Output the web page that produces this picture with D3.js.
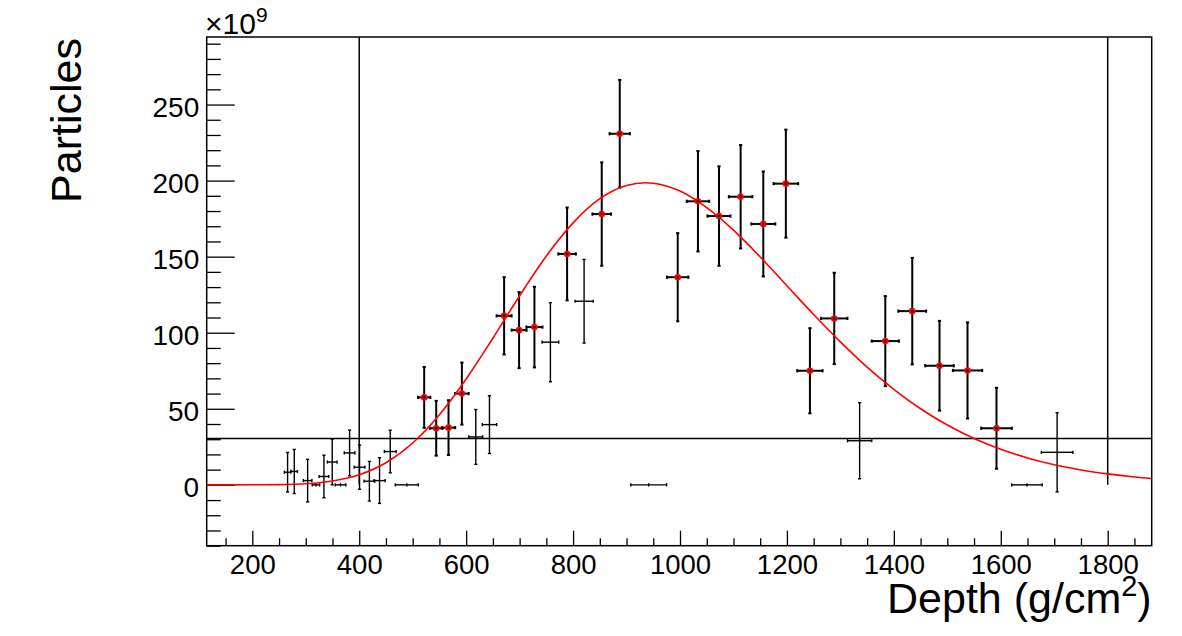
<!DOCTYPE html>
<html>
<head>
<meta charset="utf-8">
<script src="https://cdn.jsdelivr.net/npm/d3@7"></script>
<style>
  body { margin: 0; background: #fff; }
  text { font-family: "Liberation Sans", Arial, sans-serif; fill: #000; }
</style>
</head>
<body>
<div id="chart"></div>
<script>
// bin centres (g/cm2), half widths, content (x1e9), errors, red marker flag
const depth   = [266, 278.5, 303.5, 319, 334, 349.5, 365, 382, 400.6, 419, 438, 458, 489,
                 521.5, 544, 567, 592, 618, 643.6, 671, 699, 727.7, 757.6, 788.8, 820.6, 853.6, 887.3,
                 941.5, 995.7, 1033.6, 1072.9, 1113.4, 1155.8, 1198, 1243, 1288.5, 1336, 1384,
                 1434.4, 1485.4, 1537.8, 1592, 1649, 1705.4];
const depthErr = [6, 6, 8, 7, 9, 9, 10, 10, 10, 10, 10.5, 11, 21.5,
                  11.5, 12, 12.5, 12.8, 13, 13.4, 14, 14, 15, 15.6, 16.5, 17, 17.4, 19,
                  33.5, 20, 21, 21.5, 22, 22.4, 23, 23.7, 24.6, 22.7, 25.5,
                  26, 26.8, 27.4, 28.7, 28.5, 29.5];
const particles = [8.3, 8.8, 2.8, 0, 5.5, 15, 0, 21, 11.6, 2.4, 2.8, 21.9, 0,
                   57.5, 37.2, 37.6, 60, 31.5, 39.6, 111.1, 101.7, 103.7, 93.8, 151.8, 120.7, 178, 230.8,
                   0, 136.5, 186.4, 176.7, 189.4, 171.5, 198, 75, 109.4, 29, 94.5,
                   114.2, 78.3, 75.2, 37.2, 0, 21.4];
const particlesErr = [13, 14.5, 14, 0, 14, 15, 0, 15, 14.5, 13, 15, 14, 0,
                      20, 18, 18, 20.4, 18, 19, 25.4, 25, 26.5, 26, 30.5, 27.5, 34, 35.4,
                      0, 29, 33, 32.7, 34, 34.5, 35.5, 28, 30, 25, 29.6,
                      35, 29.5, 31.6, 26.6, 0, 26];
const redMarker = [0, 0, 0, 0, 0, 0, 0, 0, 0, 0, 0, 0, 0,
                   1, 1, 1, 1, 0, 0, 1, 1, 1, 0, 1, 0, 1, 1,
                   0, 1, 1, 1, 1, 1, 1, 1, 1, 0, 1,
                   1, 1, 1, 1, 0, 0];

// fitted profile
const fitDepth = [115, 150, 200, 250, 300, 350, 400, 450, 500, 550, 600, 650, 700, 750, 800, 850, 900, 935,
                  950, 1000, 1050, 1100, 1150, 1200, 1250, 1300, 1350, 1400, 1450, 1500, 1550, 1600,
                  1650, 1700, 1750, 1800, 1850, 1882];
const fitParticles = [0, 0, 0.02, 0.15, 0.7, 2.5, 6.6, 14.5, 27.5, 46.1, 69.6, 96.4, 124.3, 150.4, 172.2, 188.1, 196.8, 198.6,
                      198.3, 193.1, 182.2, 167.4, 149.8, 130.9, 112, 94, 77.4, 62.8, 50, 39.3, 30.5, 23.4,
                      17.7, 13.2, 9.8, 7.2, 5.2, 4.2];

// reference lines
const cutDepths = [400, 1800];
const threshold = 30.4;

const xMajor = [200, 400, 600, 800, 1000, 1200, 1400, 1600, 1800];
const yMajor = [0, 50, 100, 150, 200, 250];

const width = 1182, height = 636;
const frame = { left: 206.7, right: 1151.7, top: 37, bottom: 545.7 };

const svg = d3.select("#chart").append("svg")
  .attr("width", width)
  .attr("height", height);

const x = d3.scaleLinear().domain([114.7, 1882.3]).range([frame.left, frame.right]);
const y = d3.scaleLinear().domain([-40, 294.4]).range([frame.bottom, frame.top]);

const bins = depth.map((d, i) => ({
  x: d, ex: depthErr[i], y: particles[i], ey: particlesErr[i], red: redMarker[i] === 1
}));

// axes
const xMinorTicks = d3.range(150, 1851, 50).filter(v => !xMajor.includes(v));
const yMinorTicks = d3.range(-40, 291, 10).filter(v => !yMajor.includes(v));

svg.append("g")
  .attr("transform", `translate(0,${frame.bottom})`)
  .call(d3.axisBottom(x).tickValues(xMinorTicks).tickSize(-7.5).tickFormat(""))
  .call(g => g.select(".domain").remove());

svg.append("g")
  .attr("class", "xaxis")
  .attr("transform", `translate(0,${frame.bottom})`)
  .call(d3.axisBottom(x).tickValues(xMajor).tickSize(-15).tickPadding(8.8).tickFormat(d3.format("d")))
  .call(g => g.select(".domain").remove())
  .call(g => g.selectAll("text").style("font-size", "27.5px"));

svg.append("g")
  .attr("transform", `translate(${frame.left},0)`)
  .call(d3.axisLeft(y).tickValues(yMinorTicks).tickSize(-14).tickFormat(""))
  .call(g => g.select(".domain").remove());

svg.append("g")
  .attr("transform", `translate(${frame.left},0)`)
  .call(d3.axisLeft(y).tickValues(yMajor).tickSize(-28).tickPadding(7.5))
  .call(g => g.select(".domain").remove())
  .call(g => g.selectAll("text").attr("dy", "0.42em").style("font-size", "28px"));

svg.selectAll(".tick line").attr("stroke", "#000").attr("stroke-width", 1.3);

// frame
svg.append("rect")
  .attr("x", frame.left).attr("y", frame.top)
  .attr("width", frame.right - frame.left)
  .attr("height", frame.bottom - frame.top)
  .attr("fill", "none").attr("stroke", "#000").attr("stroke-width", 1.5);

// reference lines
svg.append("line")
  .attr("x1", frame.left).attr("x2", frame.right)
  .attr("y1", y(threshold)).attr("y2", y(threshold))
  .attr("stroke", "#000").attr("stroke-width", 1.5);

svg.selectAll(".cut")
  .data(cutDepths)
  .join("line")
  .attr("class", "cut")
  .attr("x1", d => x(d)).attr("x2", d => x(d))
  .attr("y1", y(0)).attr("y2", frame.top)
  .attr("stroke", "#000").attr("stroke-width", 1.5);

// error bars
const cap = 1.6;
const bars = svg.append("g").attr("stroke", "#000").attr("fill", "none");

bins.forEach(b => {
  const sw = b.red ? 2 : 1.4;
  const g = bars.append("g").attr("stroke-width", sw);
  const cx = x(b.x), cy = y(b.y);
  g.append("line").attr("x1", x(b.x - b.ex)).attr("x2", x(b.x + b.ex)).attr("y1", cy).attr("y2", cy);
  g.append("line").attr("x1", x(b.x - b.ex)).attr("x2", x(b.x - b.ex)).attr("y1", cy - cap).attr("y2", cy + cap);
  g.append("line").attr("x1", x(b.x + b.ex)).attr("x2", x(b.x + b.ex)).attr("y1", cy - cap).attr("y2", cy + cap);
  if (b.ey > 0) {
    g.append("line").attr("x1", cx).attr("x2", cx).attr("y1", y(b.y - b.ey)).attr("y2", y(b.y + b.ey));
    g.append("line").attr("x1", cx - cap).attr("x2", cx + cap).attr("y1", y(b.y - b.ey)).attr("y2", y(b.y - b.ey));
    g.append("line").attr("x1", cx - cap).attr("x2", cx + cap).attr("y1", y(b.y + b.ey)).attr("y2", y(b.y + b.ey));
  } else {
    g.append("line").attr("x1", cx).attr("x2", cx).attr("y1", cy - cap).attr("y2", cy + cap);
  }
});

// fit curve
const line = d3.line()
  .x((d, i) => x(fitDepth[i]))
  .y(d => y(d))
  .curve(d3.curveMonotoneX);

svg.append("path")
  .datum(fitParticles)
  .attr("d", line)
  .attr("fill", "none")
  .attr("stroke", "#ff0000")
  .attr("stroke-width", 1.6);

// markers
const redBins = bins.filter(b => b.red);
svg.selectAll(".marker")
  .data(redBins)
  .join("circle")
  .attr("class", "marker")
  .attr("cx", d => x(d.x)).attr("cy", d => y(d.y))
  .attr("r", 3.3)
  .attr("fill", "#ff0000");

svg.selectAll(".dot")
  .data(redBins)
  .join("circle")
  .attr("class", "dot")
  .attr("cx", d => x(d.x)).attr("cy", d => y(d.y))
  .attr("r", 1.3)
  .attr("fill", "#000");

// exponent
const expo = svg.append("text")
  .attr("x", 205).attr("y", 34)
  .style("font-size", "30px");
expo.append("tspan").text("×10");
expo.append("tspan").attr("dy", -12).style("font-size", "21px").text("9");

// titles
const xt = svg.append("text")
  .attr("x", frame.right).attr("y", 613)
  .attr("text-anchor", "end")
  .style("font-size", "43px");
xt.append("tspan").text("Depth (g/cm");
xt.append("tspan").attr("dy", -17).style("font-size", "29px").text("2");
xt.append("tspan").attr("dy", 17).text(")");

svg.append("text")
  .attr("transform", "translate(81,38) rotate(-90)")
  .attr("text-anchor", "end")
  .style("font-size", "43px")
  .text("Particles");
</script>
</body>
</html>
